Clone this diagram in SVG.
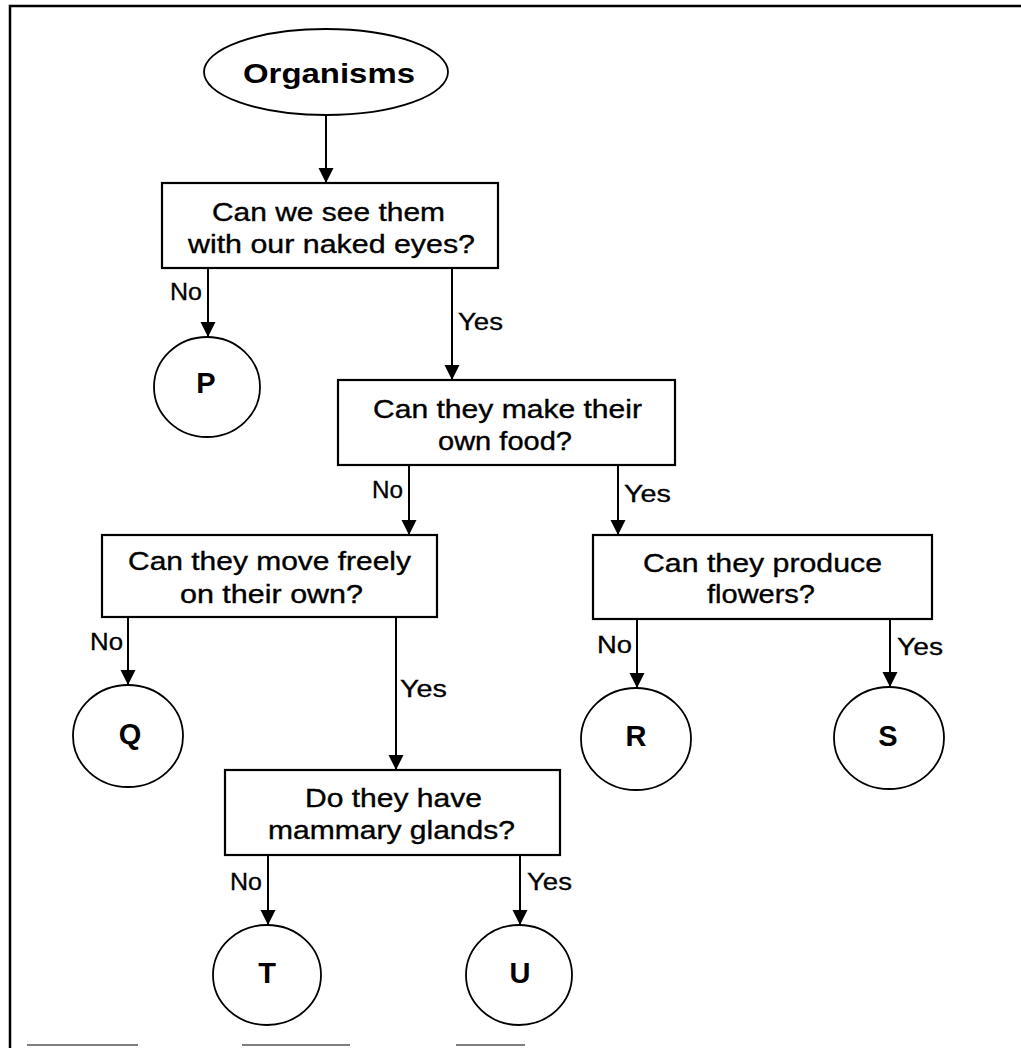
<svg xmlns="http://www.w3.org/2000/svg" width="1021" height="1048" viewBox="0 0 1021 1048">
<style>
.box{fill:#fff;stroke:#000;stroke-width:2.2}
.term{fill:#fff;stroke:#000;stroke-width:1.8}
.q{font-family:"Liberation Sans",Arial,sans-serif;font-size:25.5px;fill:#000;stroke:#000;stroke-width:0.35}
.lbl{font-family:"Liberation Sans",Arial,sans-serif;font-size:23px;fill:#000;stroke:#000;stroke-width:0.3}
.letter{font-family:"Liberation Sans",Arial,sans-serif;font-size:29px;font-weight:bold;fill:#000;text-anchor:middle}
.conn{stroke:#000;stroke-width:2;fill:none;marker-end:url(#arr)}
.frame{stroke:#000;stroke-width:2.5;fill:none}
</style>
<defs>
<marker id="arr" markerUnits="userSpaceOnUse" markerWidth="16" markerHeight="16" refX="15" refY="8" orient="auto">
<path d="M0,0.5 L15,8 L0,15.5 Z" fill="#000"/>
</marker>
</defs>
<rect width="1021" height="1048" fill="#fff"/>
<g id="frame">
<path class="frame" d="M10,1048 V6 H1021"/>
<path d="M27,1045 H138 M242,1045 H350 M456,1045 H525" stroke="#555" stroke-width="1.5"/>
</g>
<g id="connectors">
<path class="conn" d="M326,115 V183"/>
<path class="conn" d="M208,268 V337"/>
<path class="conn" d="M452,268 V380"/>
<path class="conn" d="M409,465 V535"/>
<path class="conn" d="M618,465 V535"/>
<path class="conn" d="M128,617 V685"/>
<path class="conn" d="M396,617 V770"/>
<path class="conn" d="M637,619 V688"/>
<path class="conn" d="M890,619 V687"/>
<path class="conn" d="M268,855 V925"/>
<path class="conn" d="M520,855 V925"/>
<text class="lbl" x="170" y="300" textLength="32" lengthAdjust="spacingAndGlyphs">No</text>
<text class="lbl" x="458" y="330" textLength="45" lengthAdjust="spacingAndGlyphs">Yes</text>
<text class="lbl" x="372" y="498" textLength="31" lengthAdjust="spacingAndGlyphs">No</text>
<text class="lbl" x="624" y="502" textLength="47" lengthAdjust="spacingAndGlyphs">Yes</text>
<text class="lbl" x="90" y="650" textLength="33" lengthAdjust="spacingAndGlyphs">No</text>
<text class="lbl" x="400" y="697" textLength="47" lengthAdjust="spacingAndGlyphs">Yes</text>
<text class="lbl" x="597" y="653" textLength="35" lengthAdjust="spacingAndGlyphs">No</text>
<text class="lbl" x="897" y="655" textLength="46" lengthAdjust="spacingAndGlyphs">Yes</text>
<text class="lbl" x="230" y="890" textLength="32" lengthAdjust="spacingAndGlyphs">No</text>
<text class="lbl" x="527" y="890" textLength="45" lengthAdjust="spacingAndGlyphs">Yes</text>
</g>
<g id="organisms">
<ellipse class="term" cx="326" cy="72" rx="122" ry="43"/>
<text x="243" y="83" font-family="'Liberation Sans',Arial,sans-serif" font-size="27" font-weight="bold" textLength="172" lengthAdjust="spacingAndGlyphs">Organisms</text>
</g>
<g id="q1">
<rect class="box" x="162" y="183" width="336" height="85"/>
<text class="q" x="212" y="221" textLength="233" lengthAdjust="spacingAndGlyphs">Can we see them</text>
<text class="q" x="188" y="253" textLength="287" lengthAdjust="spacingAndGlyphs">with our naked eyes?</text>
</g>
<g id="P">
<ellipse class="term" cx="207" cy="387" rx="53" ry="50"/>
<text class="letter" x="206" y="393">P</text>
</g>
<g id="q2">
<rect class="box" x="338" y="380" width="337" height="85"/>
<text class="q" x="373" y="418" textLength="269" lengthAdjust="spacingAndGlyphs">Can they make their</text>
<text class="q" x="438" y="450" textLength="134" lengthAdjust="spacingAndGlyphs">own food?</text>
</g>
<g id="q3">
<rect class="box" x="102" y="535" width="335" height="82"/>
<text class="q" x="128" y="570" textLength="283" lengthAdjust="spacingAndGlyphs">Can they move freely</text>
<text class="q" x="180" y="603" textLength="183" lengthAdjust="spacingAndGlyphs">on their own?</text>
</g>
<g id="q4">
<rect class="box" x="593" y="535" width="339" height="84"/>
<text class="q" x="643" y="572" textLength="239" lengthAdjust="spacingAndGlyphs">Can they produce</text>
<text class="q" x="707" y="603" textLength="108" lengthAdjust="spacingAndGlyphs">flowers?</text>
</g>
<g id="Q">
<ellipse class="term" cx="128" cy="736" rx="55" ry="51"/>
<text class="letter" x="130" y="744">Q</text>
</g>
<g id="R">
<ellipse class="term" cx="636" cy="739" rx="55" ry="51"/>
<text class="letter" x="636" y="746">R</text>
</g>
<g id="S">
<ellipse class="term" cx="889" cy="738" rx="55" ry="51"/>
<text class="letter" x="888" y="746">S</text>
</g>
<g id="q5">
<rect class="box" x="225" y="770" width="335" height="85"/>
<text class="q" x="305" y="807" textLength="177" lengthAdjust="spacingAndGlyphs">Do they have</text>
<text class="q" x="268" y="839" textLength="247" lengthAdjust="spacingAndGlyphs">mammary glands?</text>
</g>
<g id="T">
<ellipse class="term" cx="267" cy="975" rx="54" ry="50"/>
<text class="letter" x="267" y="983">T</text>
</g>
<g id="U">
<ellipse class="term" cx="519" cy="975" rx="53" ry="50"/>
<text class="letter" x="520" y="983">U</text>
</g>
</svg>
